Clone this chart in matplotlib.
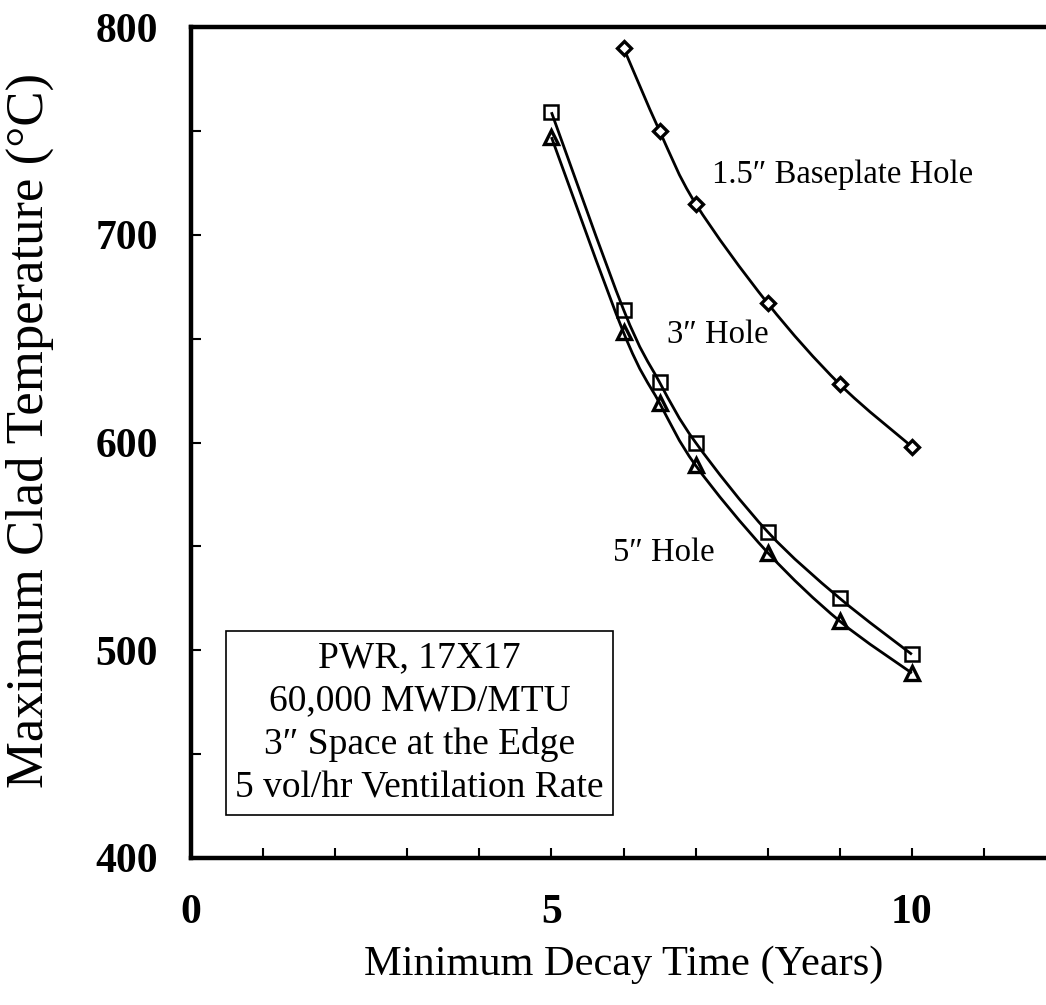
import matplotlib.pyplot as plt
import numpy as np
from matplotlib.path import Path
from matplotlib.patches import PathPatch

# Data
years_15 = [6, 6.5, 7, 8, 9, 10]
temp_15 = [790, 750, 715, 667, 628, 598]          # 1.5" baseplate hole

years = [5, 6, 6.5, 7, 8, 9, 10]
temp_3 = [759, 664, 629, 600, 557, 525, 498]      # 3" hole
temp_5 = [747, 653, 619, 589, 547, 514, 489]      # 5" hole

info_lines = ['PWR, 17X17', '60,000 MWD/MTU',
              '3\u2033 Space at the Edge', '5 vol/hr Ventilation Rate']

serif = ['Liberation Serif', 'DejaVu Serif']
plt.rcParams['font.family'] = serif


def smooth_path(x, y):
    # Catmull-Rom style smoothing turned into cubic Bezier segments
    pts = np.column_stack([x, y]).astype(float)
    ext = np.vstack([pts[0], pts, pts[-1]])
    verts = [pts[0]]
    codes = [Path.MOVETO]
    for i in range(1, len(ext) - 2):
        p0, p1, p2, p3 = ext[i - 1], ext[i], ext[i + 1], ext[i + 2]
        verts += [p1 + (p2 - p0) / 6, p2 - (p3 - p1) / 6, p2]
        codes += [Path.CURVE4] * 3
    return Path(verts, codes)


fig = plt.figure(figsize=(10.46, 10.05), dpi=100)
ax = fig.add_axes([0.1826, 0.1463, 0.827, 0.8268])
ax.set_xlim(0, 12)
ax.set_ylim(400, 800)

for xs, ys in [(years_15, temp_15), (years, temp_3), (years, temp_5)]:
    ax.add_patch(PathPatch(smooth_path(xs, ys), facecolor='none',
                           edgecolor='black', lw=2.0, zorder=2))

ax.plot(years_15, temp_15, ls='none', marker='D', ms=7, mfc='white',
        mec='black', mew=2.4, zorder=3)
ax.plot(years, temp_3, ls='none', marker='s', ms=10, mfc='none',
        mec='black', mew=1.8, zorder=3)
ax.plot(years, temp_5, ls='none', marker='^', ms=10, mfc='none',
        mec='black', mew=2.4, zorder=3)

ax.text(7.23, 729, '1.5\u2033 Baseplate Hole', fontsize=23.5, va='center', ha='left')
ax.text(6.6, 652, '3\u2033 Hole', fontsize=23.5, va='center', ha='left')
ax.text(5.85, 547, '5\u2033 Hole', fontsize=23.5, va='center', ha='left')

# info box
ax.text(3.17, 465, '\n'.join(info_lines), fontsize=27, ha='center', va='center',
        linespacing=1.33,
        bbox=dict(boxstyle='square,pad=0.25', facecolor='white',
                  edgecolor='black', lw=1.2))

# axes styling
for side in ['left', 'bottom', 'top']:
    ax.spines[side].set_linewidth(3.2)
ax.spines['right'].set_visible(False)

ax.set_xticks([0, 5, 10])
ax.set_xticks(np.arange(0, 13, 1), minor=True)
ax.set_yticks(np.arange(400, 801, 100))
ax.set_yticks(np.arange(400, 801, 50), minor=True)
ax.tick_params(which='both', direction='in', length=7, width=1.5)
ax.tick_params(axis='x', which='major', pad=26)
ax.tick_params(axis='y', which='major', pad=24)
for lab in ax.get_xticklabels() + ax.get_yticklabels():
    lab.set_fontsize(30)
    lab.set_fontweight('bold')

ax.set_xlabel('Minimum Decay Time (Years)', fontsize=30.5, labelpad=10)
ax.set_ylabel('Maximum Clad Temperature (\u00b0C)', fontsize=38, va='center')
ax.yaxis.set_label_coords(-0.186, 0.515)

plt.savefig('out.png', dpi=100)
